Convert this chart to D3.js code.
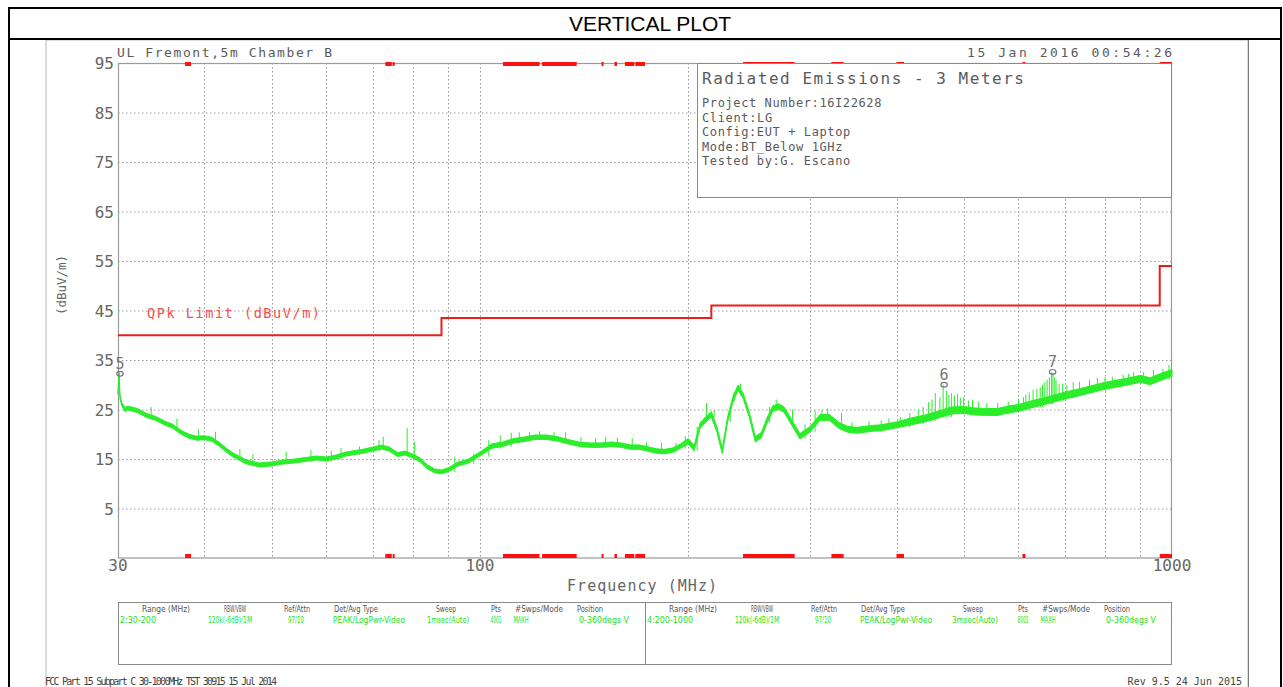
<!DOCTYPE html>
<html><head><meta charset="utf-8">
<script src="https://cdn.jsdelivr.net/npm/d3@7/dist/d3.min.js"></script>
<style>body{margin:0;background:#fff}svg{display:block}text{font-family:"DejaVu Sans Mono",monospace}</style>
</head><body>
<script>
// ---------- data ----------
const yTicks = [95, 85, 75, 65, 55, 45, 35, 25, 15, 5];
const xTickLabels = [30, 100, 1000];
const xGrid = [40, 50, 60, 70, 80, 90, 100, 200, 300, 400, 500, 600, 700, 800, 900];
const limitFreq = [30, 88, 88, 216, 216, 960, 960, 1000];
const limitLevel = [40, 40, 43.5, 43.5, 46, 46, 54, 54];
const restrictedBands = [[37.5,38.25],[73,74.6],[74.8,75.2],[108,121.94],[123,138],[149.9,150.05],[156.52,156.53],[156.7,156.9],[162.01,167.17],[167.72,173.2],[240,285],[322,335.4],[399.9,410],[608,614],[960,1000]];
const traceFreq = [30,30.1,30.2,30.4,30.7,31,32,33,34,35,36,37,38,39,40,41,42,43,44,46,48,50,52,54,56,58,60,62,64,66,68,70,72,74,76,78,80,82,84,86,88,90,93,96,100,104,108,112,116,120,125,130,135,140,145,150,155,160,165,170,175,180,185,190,195,200,204,208,212,216,220,224,228,232,236,240,245,250,255,260,265,270,275,280,290,300,310,320,330,340,350,360,370,380,390,400,420,440,460,480,500,520,540,560,580,600,625,650,675,700,725,750,775,800,830,860,900,930,960,1000];
const traceLevel = [28.5,31.5,27.5,26.0,25.0,25.3,24.8,23.8,23.2,22.3,21.6,20.4,19.6,19.2,19.3,19.0,18.0,16.8,15.8,14.4,13.8,14.0,14.4,14.6,14.9,15.2,15.0,15.4,16.0,16.3,16.6,17.0,17.4,17.0,15.9,16.2,15.6,14.8,13.4,12.6,12.4,12.8,14.0,14.5,16.0,17.6,18.0,18.7,19.0,19.4,19.4,19.0,18.4,17.9,17.8,17.8,18.0,17.8,17.4,17.4,17.0,16.6,16.5,16.8,17.6,18.6,17.2,21.7,23.0,24.0,21.0,16.6,23.0,27.0,29.4,27.8,24.0,19.0,19.8,22.8,25.2,25.6,25.0,23.2,19.6,21.0,23.4,23.4,21.8,21.0,20.8,21.0,21.2,21.3,21.6,21.9,22.6,23.2,24.0,24.8,24.9,24.6,24.5,24.5,25.0,25.3,26.0,26.6,27.2,27.8,28.3,28.8,29.3,29.8,30.2,30.6,31.2,30.7,31.5,32.4];
const traceSpread = [0.4,0.4,0.4,0.4,0.4,0.4,0.4,0.4,0.4,0.4,0.4,0.4,0.4,0.4,0.4,0.4,0.4,0.4,0.4,0.4,0.4,0.4,0.4,0.4,0.4,0.4,0.4,0.4,0.4,0.4,0.4,0.4,0.4,0.4,0.4,0.4,0.4,0.4,0.4,0.4,0.4,0.4,0.4,0.4,0.4,0.45,0.45,0.45,0.45,0.45,0.45,0.45,0.45,0.45,0.45,0.45,0.45,0.45,0.45,0.45,0.45,0.45,0.45,0.45,0.45,0.55,0.55,0.55,0.55,0.55,0.55,0.55,0.55,0.55,0.55,0.55,0.55,0.55,0.55,0.55,0.55,0.55,0.55,0.55,0.55,0.55,0.6,0.6,0.6,0.6,0.6,0.6,0.6,0.6,0.6,0.6,0.7,0.7,0.7,0.7,0.7,0.7,0.7,0.7,0.7,0.7,0.7,0.7,0.7,0.7,0.7,0.7,0.7,0.7,0.7,0.7,0.7,0.7,0.7,0.7];
const spikeFreq = [30.15,33.5,36.5,39.2,41.5,45,47,52.5,57,61,63,67,71.5,72.5,78.5,80.5,92,98,103,107,111,114,118,122,128,133,140,147,152,158,166,174,183,192,198,206,212.5,218,230,233,238,262,268,283,295,305,312,318,333,345,365,380,390,405,418,430,437,445,450,455,462,467,472,476,480,485,490,495,500,508,515,525,540,560,580,600,610,615,622,630,638,645,650,655,660,665,670,673,677,680,687,695,705,720,735,760,780,800,820,850,865,880,910,940,970,990];
const spikeTop = [32.5,25.5,23.2,21.0,20.5,17.0,16.0,16.5,16.8,16.6,17.2,17.5,18.8,19.5,21.3,18.5,15.5,16.0,18.8,19.8,20.3,20.4,20.5,20.6,20.4,20.4,19.4,19.2,19.5,19.3,19.2,18.4,18.3,18.2,19.6,21.5,26.3,24.8,25.5,28.5,30.2,25.5,27.0,25.0,22.0,24.8,25.0,25.2,24.3,22.4,22.6,22.8,23.2,23.5,24.3,25.0,25.5,26.5,27.0,28.3,27.5,30.0,28.8,28.0,28.3,27.8,28.2,27.4,27.5,26.8,27.0,26.6,26.3,26.3,26.6,27.2,27.5,28.0,28.5,29.0,29.2,29.5,30.0,30.5,31.0,31.5,32.5,32.5,31.5,31.0,30.2,30.2,30.0,30.5,30.6,31.0,31.4,31.5,31.6,32.0,32.2,32.5,32.6,33.0,33.2,34.0];
const markerIds = ["5", "6", "7"];
const markerFreq = [30.1, 467, 670];
const markerLevel = [32.2, 30.0, 32.6];
const infoLines = ["Project Number:16I22628", "Client:LG", "Config:EUT + Laptop", "Mode:BT_Below 1GHz", "Tested by:G. Escano"];
const tableHeaders = ["Range (MHz)", "RBW/VBW", "Ref/Attn", "Det/Avg Type", "Sweep", "Pts", "#Swps/Mode", "Position"];
const tableRow1 = ["2:30-200", "120k(-6dB)/1M", "97/10", "PEAK/LogPwr-Video", "1msec(Auto)", "4001", "MAXH", "0-360degs V"];
const tableRow2 = ["4:200-1000", "120k(-6dB)/1M", "97/10", "PEAK/LogPwr-Video", "3msec(Auto)", "8001", "MAXH", "0-360degs V"];

// ---------- layout ----------
const W = 1283, H = 687;
const svg = d3.select("body").append("svg").attr("width", W).attr("height", H);
const x = d3.scaleLog().domain([30, 1000]).range([118, 1172]);
const y = d3.scaleLinear().domain([-5, 95]).range([558, 63]);
const grayTxt = "#5a5a5a";

// outer frame
svg.append("rect").attr("x", 46).attr("y", 40).attr("width", 1202).attr("height", 660).attr("fill", "#fff").attr("stroke", "#b8b8b8").attr("stroke-width", 1);
svg.append("line").attr("x1", 8).attr("x2", 1282).attr("y1", 8).attr("y2", 8).attr("stroke", "#000").attr("stroke-width", 2);
svg.append("line").attr("x1", 8).attr("x2", 1282).attr("y1", 39).attr("y2", 39).attr("stroke", "#000").attr("stroke-width", 2);
svg.append("line").attr("x1", 9).attr("x2", 9).attr("y1", 7).attr("y2", H).attr("stroke", "#000").attr("stroke-width", 2);
svg.append("line").attr("x1", 1281).attr("x2", 1281).attr("y1", 7).attr("y2", H).attr("stroke", "#000").attr("stroke-width", 2);
svg.append("line").attr("x1", 1248.5).attr("x2", 1248.5).attr("y1", 40).attr("y2", H).attr("stroke", "#777").attr("stroke-width", 1);
svg.append("text").attr("x", 650).attr("y", 31).attr("text-anchor", "middle")
  .style("font-family", "'Liberation Sans', Arial, sans-serif").style("font-size", "21px").attr("fill", "#000").text("VERTICAL PLOT");

// header texts
svg.append("text").attr("x", 117).attr("y", 57).attr("fill", grayTxt).style("font-size", "13px").attr("textLength", 215).attr("lengthAdjust", "spacing").text("UL Fremont,5m Chamber B");
svg.append("text").attr("x", 967).attr("y", 57).attr("fill", grayTxt).style("font-size", "13px").attr("textLength", 205).attr("lengthAdjust", "spacing").text("15 Jan 2016   00:54:26");

// grid
const g = svg.append("g");
g.selectAll(".hg").data(yTicks.filter(d => d < 95)).join("line")
  .attr("x1", 118).attr("x2", 1172).attr("y1", d => y(d) + 0.5).attr("y2", d => y(d) + 0.5)
  .attr("stroke", "#999").attr("stroke-dasharray", "1.5,2.5");
g.selectAll(".vg").data(xGrid).join("line")
  .attr("x1", d => Math.round(x(d)) + 0.5).attr("x2", d => Math.round(x(d)) + 0.5).attr("y1", 63).attr("y2", 558)
  .attr("stroke", "#999").attr("stroke-dasharray", "1.5,2.5");
// plot frame
svg.append("rect").attr("x", 118.5).attr("y", 63.5).attr("width", 1053).attr("height", 494.5).attr("fill", "none").attr("stroke", "#9a9a9a").attr("stroke-width", 1.2);

// axis labels
svg.selectAll(".yt").data(yTicks).join("text")
  .attr("x", 114).attr("y", d => y(d) + 6).attr("text-anchor", "end").attr("fill", "#666").style("font-size", "16px").text(d => d);
svg.selectAll(".xt").data(xTickLabels).join("text")
  .attr("x", d => x(d)).attr("y", 571).attr("text-anchor", "middle").attr("fill", "#666").style("font-size", "16px").text(d => d);
svg.append("text").attr("x", 642).attr("y", 591).attr("text-anchor", "middle").attr("fill", "#666").style("font-size", "15px").attr("textLength", 150).attr("lengthAdjust", "spacing").text("Frequency (MHz)");
svg.append("text").attr("transform", "translate(66,285) rotate(-90)").attr("text-anchor", "middle").attr("fill", "#666").style("font-size", "12.5px").text("(dBuV/m)");

// restricted band markers (top and bottom)
["top", "bottom"].forEach(pos => {
  svg.selectAll(".rb" + pos).data(restrictedBands).join("rect")
    .attr("x", d => x(d[0])).attr("width", d => Math.max(2, x(d[1]) - x(d[0])))
    .attr("y", pos === "top" ? 62 : 554).attr("height", 4).attr("fill", "#ff1010");
});

// info box
svg.append("rect").attr("x", 697.5).attr("y", 63.5).attr("width", 474).attr("height", 134).attr("fill", "#fff").attr("stroke", "#8a8a8a");
svg.append("text").attr("x", 702).attr("y", 84).attr("fill", grayTxt).style("font-size", "16px").attr("textLength", 322).attr("lengthAdjust", "spacing").text("Radiated Emissions - 3 Meters");
svg.selectAll(".info").data(infoLines).join("text")
  .attr("x", 702).attr("y", (d, i) => 107 + i * 14.5).attr("fill", grayTxt).style("font-size", "12px")
  .attr("textLength", d => d.length * 7.8).attr("lengthAdjust", "spacing").text(d => d);

// limit line
const lim = d3.line().x((d, i) => x(limitFreq[i])).y((d, i) => y(limitLevel[i]));
svg.append("path").attr("d", lim(limitFreq)).attr("fill", "none").attr("stroke", "#ee1b1b").attr("stroke-width", 2);
svg.append("text").attr("x", 147).attr("y", 318).attr("fill", "#f25050").style("font-size", "13.5px").attr("textLength", 173).attr("lengthAdjust", "spacing").text("QPk Limit (dBuV/m)");

// trace
const green = "#2aee2a";
const levelAt = f => traceLevel[Math.max(0, d3.bisectLeft(traceFreq, f) - 1)];
svg.selectAll(".spk").data(spikeFreq).join("line")
  .attr("x1", d => x(d)).attr("x2", d => x(d))
  .attr("y1", d => y(levelAt(d) - 0.5))
  .attr("y2", (d, i) => y(spikeTop[i])).attr("stroke", green).attr("stroke-width", 1);
const area = d3.area().x((d, i) => x(traceFreq[i])).y0((d, i) => y(traceLevel[i] - traceSpread[i])).y1((d, i) => y(traceLevel[i] + traceSpread[i]));
svg.append("path").attr("d", area(traceFreq)).attr("fill", green).attr("stroke", green).attr("stroke-width", 1).attr("stroke-linejoin", "round");

// markers
svg.selectAll(".mk").data(markerIds).join("ellipse")
  .attr("cx", (d, i) => x(markerFreq[i]) + 1).attr("cy", (d, i) => y(markerLevel[i])).attr("rx", 3.2).attr("ry", 2.4)
  .attr("fill", "none").attr("stroke", "#777").attr("stroke-width", 1.2);
svg.selectAll(".mkt").data(markerIds).join("text")
  .attr("x", (d, i) => x(markerFreq[i]) + 1).attr("y", (d, i) => y(markerLevel[i]) - 5).attr("text-anchor", "middle")
  .attr("fill", "#777").style("font-size", "15px").text(d => d);

// bottom table
svg.append("rect").attr("x", 118.5).attr("y", 602.5).attr("width", 1053).attr("height", 62).attr("fill", "none").attr("stroke", "#8a8a8a");
svg.append("line").attr("x1", 645.5).attr("x2", 645.5).attr("y1", 602).attr("y2", 665).attr("stroke", "#8a8a8a");
const headOff = [48, 117, 179, 238, 328, 378, 421, 472];
const headLen = [48, 22, 26, 44, 20, 10, 48, 26];
const valOff = [20, 112, 178, 251, 330, 378, 403, 486];
const valLen1 = [36, 44, 16, 72, 42, 11, 15, 50];
const valLen2 = [46, 44, 16, 72, 46, 11, 15, 50];
const tStyle = s => s.style("font-family", "'Liberation Sans Narrow','DejaVu Sans Condensed',sans-serif").style("font-size", "8.5px").attr("text-anchor", "middle").attr("lengthAdjust", "spacingAndGlyphs");
[[118, tableRow1, valLen1], [645, tableRow2, valLen2]].forEach(([x0, row, vl], k) => {
  svg.selectAll(".th" + k).data(tableHeaders).join("text").call(tStyle)
    .attr("x", (d, i) => x0 + headOff[i]).attr("y", 612).attr("textLength", (d, i) => headLen[i]).attr("fill", "#555").text(d => d);
  svg.selectAll(".tv" + k).data(row).join("text").call(tStyle)
    .attr("x", (d, i) => x0 + valOff[i] + (k === 1 && i === 0 ? 5 : 0)).attr("y", 623).attr("textLength", (d, i) => vl[i]).attr("fill", "#22dd22").text(d => d);
});

// footer
svg.append("text").attr("x", 45).attr("y", 685).attr("fill", "#444").style("font-size", "10px").attr("textLength", 232).attr("lengthAdjust", "spacing").text("FCC Part 15 Subpart C 30-1000MHz TST 30915 15 Jul 2014");
svg.append("text").attr("x", 1242).attr("y", 685).attr("text-anchor", "end").attr("fill", "#444").style("font-size", "10px").text("Rev 9.5 24 Jun 2015");
</script>
</body></html>
